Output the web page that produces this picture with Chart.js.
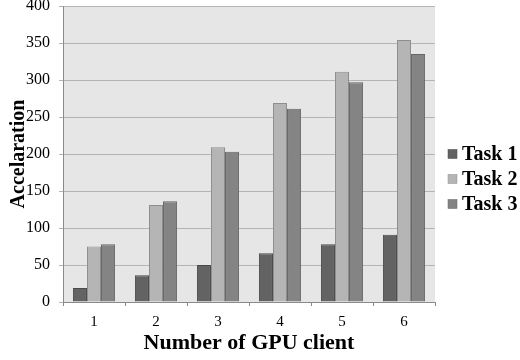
<!DOCTYPE html>
<html>
<head>
<meta charset="utf-8">
<script src="https://cdn.jsdelivr.net/npm/chart.js@4"></script>
<style>
  html, body { margin: 0; padding: 0; background: #ffffff; }
  #wrap { width: 520px; height: 360px; }
</style>
</head>
<body>
<div id="wrap"><canvas id="c" width="520" height="360"></canvas></div>
<script>
// GPU client counts on the x axis
const clients = ['1', '2', '3', '4', '5', '6'];

// Acceleration per task
const task1 = [19, 36, 50, 66, 78, 91];
const task2 = [75, 131, 209, 269, 311, 354];
const task3 = [78, 136, 203, 261, 297, 335];

const seriesNames = ['Task 1', 'Task 2', 'Task 3'];
const fills = ['#636363', '#b5b5b5', '#848484'];
const edges = ['#4a4a4a', '#8e8e8e', '#666666'];

const SERIF = '"Liberation Serif", "DejaVu Serif", serif';

// Grey plot background, axis titles and the side legend
const decorations = {
  id: 'decorations',
  beforeDraw(chart) {
    const { ctx, chartArea: a } = chart;
    ctx.save();
    ctx.fillStyle = '#e6e6e6';
    ctx.fillRect(a.left, a.top, a.right - a.left, a.bottom - a.top);
    ctx.restore();
  },
  afterDraw(chart) {
    const { ctx, chartArea: a } = chart;
    ctx.save();
    ctx.fillStyle = '#000000';
    // y title
    ctx.font = 'bold 20px ' + SERIF;
    ctx.textAlign = 'center';
    ctx.textBaseline = 'middle';
    ctx.translate(19, (a.top + a.bottom) / 2);
    ctx.rotate(-Math.PI / 2);
    ctx.fillText('Accelaration', 0, 0);
    ctx.setTransform(1, 0, 0, 1, 0, 0);
    // x title
    ctx.font = 'bold 22px ' + SERIF;
    ctx.textAlign = 'center';
    ctx.textBaseline = 'alphabetic';
    ctx.fillText('Number of GPU client', (a.left + a.right) / 2, 349);
    // legend
    ctx.font = 'bold 20px ' + SERIF;
    ctx.textAlign = 'left';
    ctx.textBaseline = 'middle';
    chart.data.datasets.forEach((ds, i) => {
      const y = 154 + i * 25;
      ctx.fillStyle = ds.backgroundColor;
      ctx.fillRect(448, y - 4.5, 9, 9);
      ctx.strokeStyle = ds.borderColor;
      ctx.lineWidth = 0.5;
      ctx.strokeRect(448, y - 4.5, 9, 9);
      ctx.fillStyle = '#000000';
      ctx.fillText(ds.label, 462, y + 1);
    });
    ctx.restore();
  }
};

new Chart(document.getElementById('c'), {
  type: 'bar',
  data: {
    labels: clients,
    datasets: [task1, task2, task3].map((vals, i) => ({
      label: seriesNames[i],
      data: vals,
      backgroundColor: fills[i],
      borderColor: edges[i],
      borderWidth: 1,
      categoryPercentage: 0.68,
      barPercentage: 1.0
    }))
  },
  options: {
    responsive: false,
    animation: false,
    devicePixelRatio: 1,
    layout: { padding: { top: 6, right: 85, left: 0, bottom: 0 } },
    plugins: { legend: { display: false }, tooltip: { enabled: false } },
    scales: {
      x: {
        offset: true,
        afterFit(s) { s.height = 58; s.paddingLeft = 0; s.paddingRight = 0; },
        grid: {
          offset: true,
          drawOnChartArea: false,
          drawTicks: true,
          tickLength: 4,
          color: '#8a8a8a'
        },
        border: { display: true, color: '#8a8a8a', width: 1 },
        ticks: {
          color: '#000000',
          padding: 7,
          font: { family: SERIF, size: 15 }
        }
      },
      y: {
        min: 0,
        max: 400,
        afterFit(s) { s.width = 63; s.paddingTop = 0; s.paddingBottom = 0; },
        grid: {
          color: '#b4b4b4',
          tickLength: 4,
          drawTicks: true
        },
        border: { display: true, color: '#8a8a8a', width: 1 },
        ticks: {
          stepSize: 50,
          color: '#000000',
          padding: 9,
          font: { family: SERIF, size: 16 }
        }
      }
    }
  },
  plugins: [decorations]
});
</script>
</body>
</html>
